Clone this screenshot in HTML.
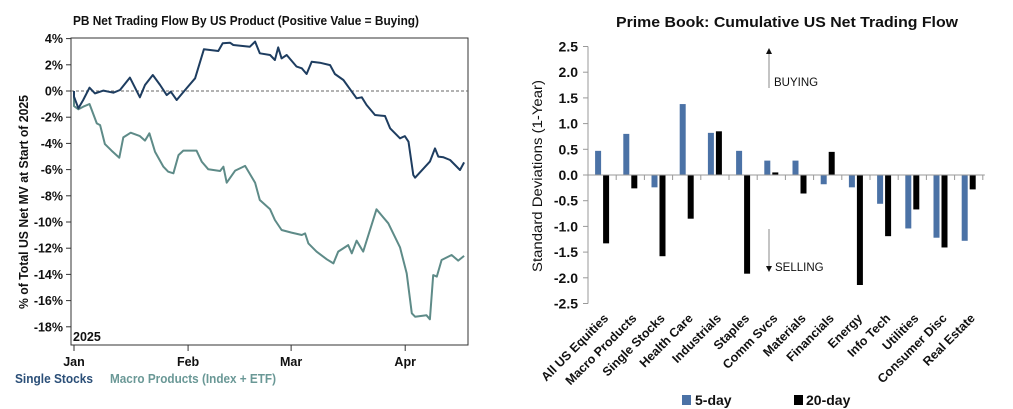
<!DOCTYPE html>
<html><head><meta charset="utf-8"><style>
body{margin:0;background:#fff;width:1013px;height:409px;overflow:hidden}
svg{font-family:"Liberation Sans",sans-serif;display:block}
</style></head><body>
<svg id="svg" width="1013" height="409" viewBox="0 0 1013 409">
<g id="left"></g>
<g id="right"></g>
</svg>
<script>
// ---- Left chart data (day = calendar days since Jan 1 2025) ----
const ssDays=[0,0,1.2,2.5,4.2,5.7,8.0,10.7,12.5,15.2,17.9,19.3,21.4,23.4,25.2,26.3,27.9,30.2,32.9,35.3,39.2,40.4,42.4,43.3,47.8,49.2,50.5,53.3,54.6,55.5,56.4,57.8,60.5,61.9,63.2,64.6,66.8,69.6,70.9,73.2,76.8,78.2,79.5,81.8,84.5,85.9,88.6,89.9,90.9,92.2,92.7,96.7,98.1,99.0,100.4,102.2,104.9,106.0];
const ssVals=[0,-0.43,-1.32,-0.69,0.25,-0.18,0.03,-0.13,0.08,1.02,-0.48,0.46,1.22,0.46,-0.31,-0.05,-0.69,0.08,0.97,3.18,3.05,3.64,3.69,3.51,3.38,3.77,2.88,2.75,2.37,3.33,2.49,2.75,1.86,1.73,1.30,2.24,2.16,1.98,1.30,0.84,-0.56,-0.48,-1.07,-1.83,-1.91,-2.85,-3.61,-3.44,-3.87,-6.41,-6.62,-5.39,-4.38,-5.01,-5.06,-5.27,-6.03,-5.45];
const mpDays=[0,0,1.2,2.5,4.2,6.2,7.1,8.4,10.2,12.3,13.4,15.4,17.9,19.3,20.5,22.0,24.3,25.6,27.0,28.4,29.7,33.3,34.7,36.5,39.7,40.6,41.5,43.8,46.5,49.2,50.5,53.3,54.6,56.4,59.1,61.9,62.8,63.7,65.9,68.7,70.5,71.8,74.5,75.5,76.8,78.6,82.2,85.4,88.6,90.4,91.8,92.7,95.8,96.7,97.6,98.6,99.9,102.6,104.4,106.0];
const mpVals=[0,-1.15,-1.40,-1.20,-0.99,-2.47,-2.60,-4.05,-4.55,-5.09,-3.54,-3.18,-3.44,-3.79,-3.23,-4.63,-5.78,-6.16,-6.28,-4.89,-4.55,-4.55,-5.39,-5.98,-6.11,-5.78,-7.00,-6.08,-5.72,-7.00,-8.32,-9.03,-9.85,-10.61,-10.81,-10.99,-10.87,-11.63,-12.26,-12.85,-13.16,-12.26,-11.76,-12.39,-11.43,-12.26,-9.03,-10.10,-11.93,-13.92,-16.97,-17.23,-17.12,-17.43,-14.05,-14.17,-12.90,-12.52,-12.95,-12.59];
const leftTicks=[4,2,0,-2,-4,-6,-8,-10,-12,-14,-16,-18];
const monthLabels=["Jan","Feb","Mar","Apr"];
const monthDays=[0,31,59,90];
// ---- Right chart data ----
const categories=["All US Equities","Macro Products","Single Stocks","Health Care","Industrials","Staples","Comm Svcs","Materials","Financials","Energy","Info Tech","Utilities","Consumer Disc","Real Estate"];
const fiveDay=[0.47,0.80,-0.24,1.38,0.82,0.47,0.28,0.28,-0.18,-0.24,-0.56,-1.04,-1.22,-1.28];
const twentyDay=[-1.33,-0.26,-1.58,-0.85,0.85,-1.92,0.05,-0.36,0.45,-2.14,-1.19,-0.67,-1.41,-0.28];
const rightTicks=[2.5,2.0,1.5,1.0,0.5,0.0,-0.5,-1.0,-1.5,-2.0,-2.5];

const NS="http://www.w3.org/2000/svg";
function mk(parent,tag,attrs,text){const e=document.createElementNS(NS,tag);for(const k in attrs)e.setAttribute(k,attrs[k]);if(text!==undefined)e.textContent=text;parent.appendChild(e);return e;}

// ===== LEFT =====
const L=document.getElementById('left');
const lx=d=>74+d*3.68, ly=v=>91-v*13.1;
let e;
e=mk(L,'text',{x:73,y:25,'font-size':12.5,'font-weight':'bold',fill:'#111',textLength:346,lengthAdjust:'spacingAndGlyphs'},'PB Net Trading Flow By US Product (Positive Value = Buying)');

e=mk(L,'rect',{x:71,y:38,width:397,height:307,fill:'none',stroke:'#333','stroke-width':1});

e=mk(L,'line',{x1:71,x2:468,y1:ly(0),y2:ly(0),stroke:'#666','stroke-dasharray':'3,2','stroke-width':1});

leftTicks.forEach(t=>{
  e=mk(L,'line',{x1:66,x2:71,y1:ly(t),y2:ly(t),stroke:'#333'});
  
  e=mk(L,'text',{x:63,y:ly(t)+4.5,'text-anchor':'end','font-size':12.5,'font-weight':'bold',fill:'#111'},t+'%');
  
});
monthLabels.forEach((m,i)=>{
  const x=lx(monthDays[i]);
  e=mk(L,'line',{x1:x,x2:x,y1:345,y2:351,stroke:'#333'});
  
  e=mk(L,'text',{x:x,y:366,'text-anchor':'middle','font-size':12.5,'font-weight':'bold',fill:'#111'},m);
  
});
e=mk(L,'text',{x:73,y:341,'font-size':12.5,'font-weight':'bold',fill:'#111'},'2025');

e=mk(L,'text',{transform:'translate(28,202) rotate(-90)','text-anchor':'middle','font-size':12.5,'font-weight':'bold',fill:'#111',textLength:214,lengthAdjust:'spacingAndGlyphs'},'% of Total US Net MV at Start of 2025');

function path(days,vals){return days.map((d,i)=>(i?'L':'M')+lx(d).toFixed(1)+','+ly(vals[i]).toFixed(1)).join('');}
e=mk(L,'path',{d:path(mpDays,mpVals),fill:'none',stroke:'#5e8b88','stroke-width':2,'stroke-linejoin':'round'});

e=mk(L,'path',{d:path(ssDays,ssVals),fill:'none',stroke:'#1e3d60','stroke-width':2,'stroke-linejoin':'round'});

e=mk(L,'text',{x:15,y:383,'font-size':12.5,'font-weight':'bold',fill:'#2b4f78',textLength:78,lengthAdjust:'spacingAndGlyphs'},'Single Stocks');

e=mk(L,'text',{x:110,y:383,'font-size':12.5,'font-weight':'bold',fill:'#6a9896',textLength:166,lengthAdjust:'spacingAndGlyphs'},'Macro Products (Index + ETF)');


// ===== RIGHT =====
const R=document.getElementById('right');
const x0=588, step=28.2, ry=v=>175-v*51.4;
e=mk(R,'text',{x:787,y:27,'text-anchor':'middle','font-size':15,'font-weight':'bold',fill:'#111',textLength:342,lengthAdjust:'spacingAndGlyphs'},'Prime Book: Cumulative US Net Trading Flow');

e=mk(R,'line',{x1:x0,x2:x0,y1:ry(2.5),y2:ry(-2.5),stroke:'#999'});

rightTicks.forEach(t=>{
  e=mk(R,'line',{x1:x0-5,x2:x0,y1:ry(t),y2:ry(t),stroke:'#999'});
  
  e=mk(R,'text',{x:x0-10,y:ry(t)+5,'text-anchor':'end','font-size':14,'font-weight':'bold',fill:'#111'},t.toFixed(1));
  
});
e=mk(R,'text',{transform:'translate(542,176) rotate(-90)','text-anchor':'middle','font-size':13.5,fill:'#111',textLength:192,lengthAdjust:'spacingAndGlyphs'},'Standard Deviations (1-Year)');

categories.forEach((c,i)=>{
  const cx=x0+step*(i+0.5);
  e=mk(R,'rect',{x:cx-7,y:Math.min(ry(fiveDay[i]),ry(0)),width:6,height:Math.abs(ry(fiveDay[i])-ry(0)),fill:'#4b72a6'});
  
  e=mk(R,'rect',{x:cx+1,y:Math.min(ry(twentyDay[i]),ry(0)),width:6,height:Math.abs(ry(twentyDay[i])-ry(0)),fill:'#000'});
  
  e=mk(R,'text',{transform:`translate(${cx+7},${319}) rotate(-45)`,'text-anchor':'end','font-size':12.5,'font-weight':'bold',fill:'#111'},c);
  
});
e=mk(R,'line',{x1:x0,x2:x0+step*14+2,y1:ry(0),y2:ry(0),stroke:'#999'});

for(let i=1;i<=14;i++){
  e=mk(R,'line',{x1:x0+step*i,x2:x0+step*i,y1:ry(0),y2:ry(0)+5,stroke:'#999'});
  
}
e=mk(R,'line',{x1:769,x2:769,y1:88,y2:53,stroke:'#888'});

e=mk(R,'path',{d:'M766,54 L769,48 L772,54 Z',fill:'#111'});

e=mk(R,'text',{x:774,y:86,'font-size':11.5,fill:'#111'},'BUYING');

e=mk(R,'line',{x1:769,x2:769,y1:229,y2:268,stroke:'#888'});

e=mk(R,'path',{d:'M766,266 L769,272 L772,266 Z',fill:'#111'});

e=mk(R,'text',{x:775,y:271,'font-size':11.5,fill:'#111'},'SELLING');

e=mk(R,'rect',{x:682,y:395,width:9,height:10,fill:'#4b72a6'});

e=mk(R,'text',{x:695,y:405,'font-size':14,'font-weight':'bold',fill:'#111'},'5-day');

e=mk(R,'rect',{x:794,y:395,width:9,height:10,fill:'#000'});

e=mk(R,'text',{x:806,y:405,'font-size':14,'font-weight':'bold',fill:'#111'},'20-day');

</script>
</body></html>
